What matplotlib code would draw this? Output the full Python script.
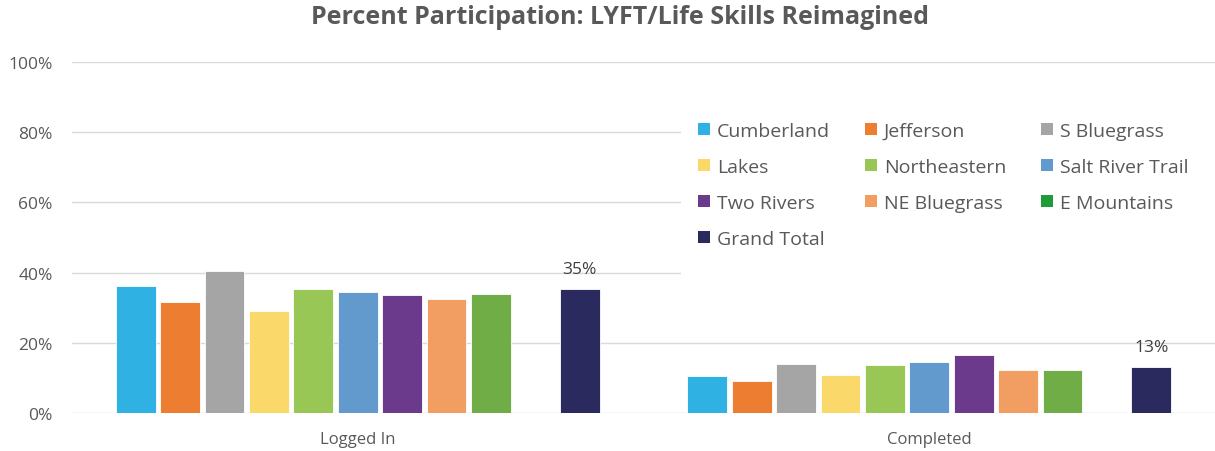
import matplotlib.pyplot as plt
from matplotlib.patches import Patch, Rectangle
import numpy as np

plt.rcParams['font.family'] = ['Open Sans', 'DejaVu Sans']

categories = ['Logged In', 'Completed']
regions = ['Cumberland', 'Jefferson', 'S Bluegrass', 'Lakes', 'Northeastern',
           'Salt River Trail', 'Two Rivers', 'NE Bluegrass', 'E Mountains', 'Grand Total']
logged_in = [0.362, 0.315, 0.404, 0.291, 0.353, 0.345, 0.336, 0.325, 0.339, 0.353]
completed = [0.106, 0.091, 0.141, 0.109, 0.136, 0.144, 0.165, 0.123, 0.123, 0.130]
colors = ['#2FB1E3', '#ED7D31', '#A5A5A5', '#FAD96A', '#98C755',
          '#629ACD', '#6C3A8C', '#F29E63', '#70AD47', '#2A2A5E']
legend_colors = colors[:8] + ['#1F9B3A', colors[9]]
yticks = [0, 0.2, 0.4, 0.6, 0.8, 1.0]

W, H = 1215, 452
fig = plt.figure(figsize=(W / 100, H / 100), dpi=100)
ax = fig.add_axes([72 / W, 1 - 414 / H, 1 - 72 / W, (414 - 63) / H])

x = np.arange(len(categories))
slot = 0.0777
width = 0.0697
# Grand Total sits one empty slot after E Mountains
slots = list(range(9)) + [10]
for i, name in enumerate(regions):
    vals = [logged_in[i], completed[i]]
    pos = x + (slots[i] - 5) * slot
    ax.bar(pos, vals, width, color=colors[i], edgecolor='white', linewidth=0.6, zorder=3)
    if name == 'Grand Total':
        for px, v in zip(pos, vals):
            ax.text(px, v + 0.035, f'{v:.0%}', ha='center', va='bottom',
                    fontsize=12.5, color='#404040')

ax.set_xlim(-0.5, 1.5)
ax.set_ylim(0, 1.0)
ax.set_yticks(yticks)
ax.set_yticklabels([f'{t:.0%}' for t in yticks])
ax.set_xticks(x)
ax.set_xticklabels(categories)
ax.tick_params(axis='both', length=0, labelcolor='#595959')
ax.tick_params(axis='y', pad=14, labelsize=12.5)
ax.tick_params(axis='x', pad=13, labelsize=12)
ax.grid(axis='y', color='#D9D9D9', linewidth=1, zorder=0)
for s in ax.spines.values():
    s.set_visible(False)

# white legend area covering the gridlines behind it
ax.add_patch(Rectangle((681 / W, 1 - 285 / H), 1, (285 - 90) / H, transform=fig.transFigure,
                       facecolor='white', edgecolor='none', zorder=2))

order = [0, 3, 6, 9, 1, 4, 7, 2, 5, 8]
handles = [Patch(facecolor=legend_colors[i], edgecolor='none') for i in order]
labels = [regions[i] for i in order]
leg = ax.legend(handles, labels, ncol=3, loc='upper left',
                bbox_to_anchor=(698 / W, 1 - 123 / H), bbox_transform=fig.transFigure,
                fontsize=14, frameon=False, borderpad=0, borderaxespad=0,
                handlelength=0.62, handleheight=0.62, handletextpad=0.35,
                columnspacing=1.8, labelspacing=0.92, labelcolor='#595959')
leg.set_zorder(5)

fig.suptitle('Percent Participation: LYFT/Life Skills Reimagined', x=0.51, y=0.99,
             fontsize=18, fontweight='bold', color='#595959')

fig.savefig('out.png', dpi=100)
